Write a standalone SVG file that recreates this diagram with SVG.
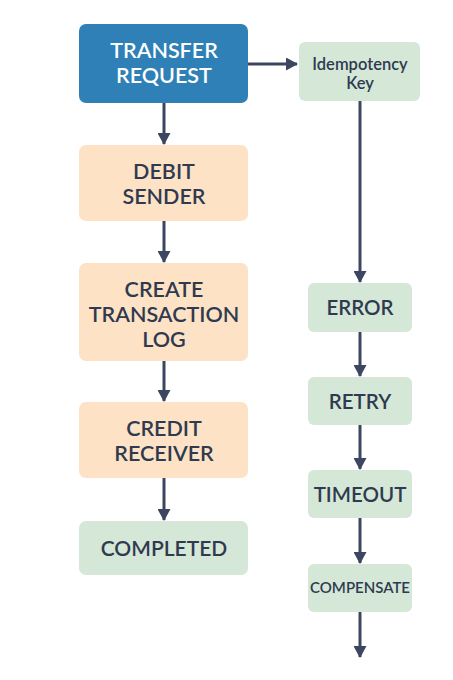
<svg xmlns="http://www.w3.org/2000/svg" width="453" height="680" viewBox="0 0 453 680">
<defs>
<marker id="ah" viewBox="0 0 12 13" refX="11" refY="6.5" markerWidth="12" markerHeight="13" markerUnits="userSpaceOnUse" orient="auto">
<path d="M0,0 L12,6.5 L0,13 z" fill="#3d4660"/>
</marker>
<style>
.n text{font-family:Lato,"Open Sans",sans-serif;font-weight:600;text-anchor:middle;fill:#2f3a4f}
.blue rect{fill:#2e80b6}
.blue text{fill:#ffffff}
.org rect{fill:#fde2c6}
.grn rect{fill:#d5e7d7}
.c line{stroke:#3d4660;stroke-width:3;marker-end:url(#ah)}
</style>
</defs>
<rect width="453" height="680" fill="#ffffff"/>
<g id="connectors" class="c">
<line x1="248" y1="64" x2="297" y2="64"/>
<line x1="164" y1="103" x2="164" y2="144"/>
<line x1="164" y1="221" x2="164" y2="262"/>
<line x1="164" y1="361" x2="164" y2="401"/>
<line x1="164" y1="478" x2="164" y2="520"/>
<line x1="360" y1="101" x2="360" y2="282"/>
<line x1="360" y1="332" x2="360" y2="376"/>
<line x1="360" y1="425" x2="360" y2="469"/>
<line x1="360" y1="518" x2="360" y2="563"/>
<line x1="360" y1="612" x2="360" y2="657"/>
</g>
<g id="transfer" class="n blue"><rect x="79" y="24" width="169" height="79" rx="7"/><text font-size="21.5" x="164" y="58">TRANSFER</text><text font-size="21.5" x="164" y="83">REQUEST</text></g>
<g id="idem" class="n grn"><rect x="299" y="42" width="121" height="59" rx="6"/><text font-size="16.5" x="360" y="70">Idempotency</text><text font-size="16.5" x="360" y="89">Key</text></g>
<g id="debit" class="n org"><rect x="79" y="145" width="169" height="76" rx="7"/><text font-size="21.5" x="164" y="179">DEBIT</text><text font-size="21.5" x="164" y="204">SENDER</text></g>
<g id="create" class="n org"><rect x="79" y="263" width="169" height="98" rx="7"/><text font-size="21.5" x="164" y="297">CREATE</text><text font-size="21.5" x="164" y="322">TRANSACTION</text><text font-size="21.5" x="164" y="347">LOG</text></g>
<g id="credit" class="n org"><rect x="79" y="402" width="169" height="76" rx="7"/><text font-size="21.5" x="164" y="436">CREDIT</text><text font-size="21.5" x="164" y="461">RECEIVER</text></g>
<g id="completed" class="n grn"><rect x="79" y="521" width="169" height="54" rx="7"/><text font-size="21" x="164" y="556">COMPLETED</text></g>
<g id="error" class="n grn"><rect x="308" y="283" width="104" height="49" rx="6"/><text font-size="20.5" x="360" y="315">ERROR</text></g>
<g id="retry" class="n grn"><rect x="308" y="377" width="104" height="48" rx="6"/><text font-size="20.5" x="360" y="409">RETRY</text></g>
<g id="timeout" class="n grn"><rect x="308" y="470" width="104" height="48" rx="6"/><text font-size="20.5" x="360" y="502">TIMEOUT</text></g>
<g id="compensate" class="n grn"><rect x="308" y="564" width="104" height="48" rx="6"/><text font-size="15" x="360" y="593">COMPENSATE</text></g>
</svg>
